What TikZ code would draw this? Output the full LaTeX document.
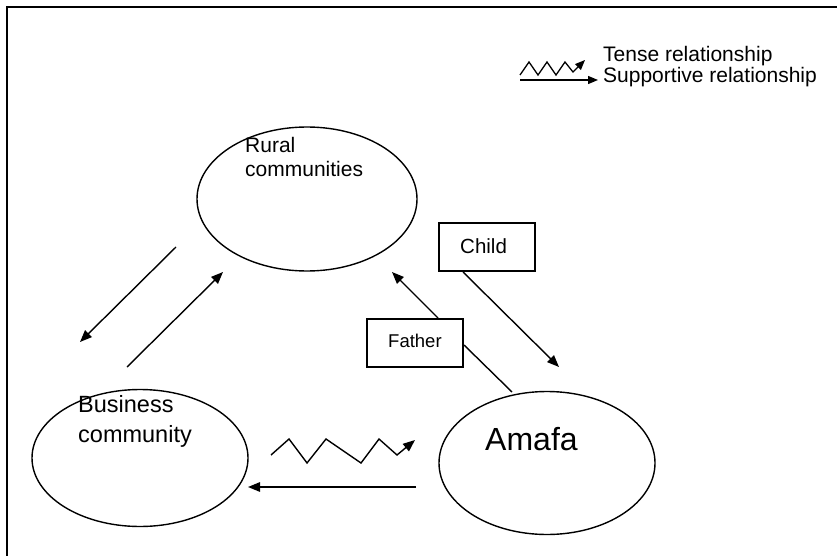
\documentclass[tikz,border=0pt]{standalone}
\usepackage{fontspec}
\setmainfont{Liberation Sans}
\usetikzlibrary{shapes.geometric,arrows.meta}
\begin{document}
\begin{tikzpicture}[x=1pt,y=-1pt,
  oval/.style={draw,ellipse,line width=1.4pt,inner sep=0pt},
  lbox/.style={draw,rectangle,line width=1.4pt,inner sep=0pt,minimum width=96pt,minimum height=48pt},
  conn/.style={line width=1.4pt,-{Triangle[length=12pt,width=9.5pt]}},
  lconn/.style={line width=1.3pt,-{Triangle[length=10pt,width=8pt]}},
  plain/.style={line width=1.4pt},
  txt/.style={inner sep=0pt,anchor=base west,align=left}]
\useasboundingbox (0,0) rectangle (837,556);
\clip (0,0) rectangle (837,556);
\draw[line width=1.8pt] (7,7) rectangle (900,620);
% ellipses
\node[oval,minimum width=220pt,minimum height=144pt] (rural) at (307,199) {};
\node[oval,minimum width=216pt,minimum height=137pt] (biz) at (140,458) {};
\node[oval,minimum width=216pt,minimum height=143pt] (amafa) at (547,463) {};
% ellipse texts
\node[txt,font=\fontsize{21}{24}\selectfont] (ruraltxt) at (245,176) {Rural\\communities};
\node[txt,font=\fontsize{23.5}{30}\selectfont] (biztxt) at (78,442) {Business\\community};
\node[txt,font=\fontsize{32}{36}\selectfont] (amafatxt) at (485,450) {Amafa};
% boxes
\node[lbox] (child) at (487,247) {};
\node[txt,font=\fontsize{20.5}{24}\selectfont] (childtxt) at (460,253) {Child};
\node[lbox] (father) at (415,343) {};
\node[txt,font=\fontsize{18.5}{22}\selectfont] (fathertxt) at (388,347) {Father};
% legend
\node[txt,font=\fontsize{21}{24}\selectfont] (tense) at (603,62) {Tense relationship};
\node[txt,font=\fontsize{21}{24}\selectfont] (supp) at (603,83) {Supportive relationship};
\coordinate (lz1) at (520,75);
\coordinate (la1) at (520,80);
\coordinate (la2) at (598,80);
\draw[lconn] (lz1) -- ++(9,-13) -- ++(9,13) -- ++(9,-13) -- ++(9,13) -- ++(9,-13) -- ++(8,10) -- ++(12,-12);
\draw[lconn] (la1) -- (la2);
% connectors
\coordinate (a1s) at (176,247); \coordinate (a1e) at (80,342);
\coordinate (a2s) at (127,367); \coordinate (a2e) at (223,272);
\draw[conn] (a1s) -- (a1e);
\draw[conn] (a2s) -- (a2e);
\coordinate (fs) at (438,318); \coordinate (fe) at (392,272);
\draw[conn] (fs) -- (fe);
\coordinate (fl1) at (464,345); \coordinate (fl2) at (512,392);
\draw[plain] (fl1) -- (fl2);
\coordinate (cs) at (463,272); \coordinate (ce) at (559,367);
\draw[conn] (cs) -- (ce);
\coordinate (z0) at (271,455);
\draw[conn] (z0) -- (289,439) -- (307,463) -- (326,439) -- (361,463) -- (379,439) -- (397,455) -- (415,440);
\coordinate (bs) at (416,487); \coordinate (be) at (248,487);
\draw[conn] (bs) -- (be);
\end{tikzpicture}
\end{document}
